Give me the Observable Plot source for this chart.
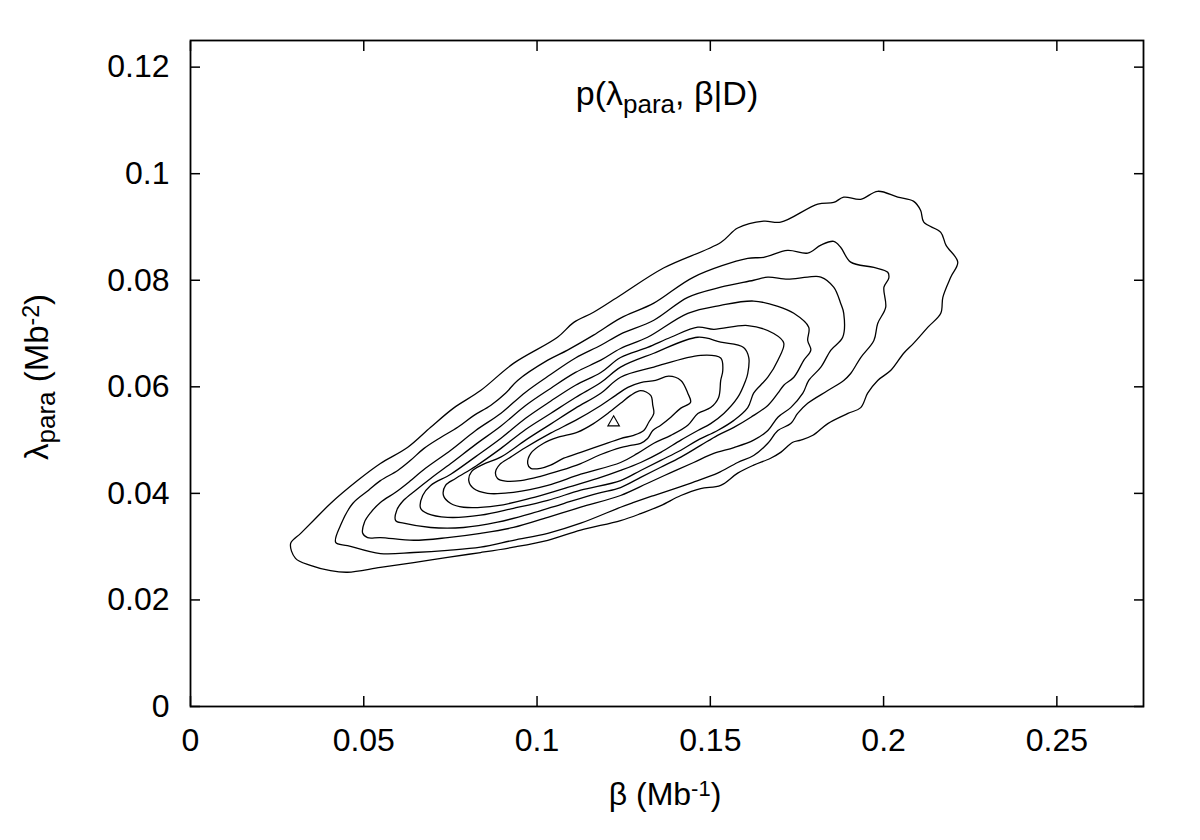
<!DOCTYPE html>
<html>
<head>
<meta charset="utf-8">
<script src="https://cdn.jsdelivr.net/npm/d3@7"></script>
<script src="https://cdn.jsdelivr.net/npm/@observablehq/plot@0.6"></script>
<style>
  html, body { margin: 0; padding: 0; background: #fff; }
  #chart { width: 1200px; height: 840px; }
</style>
</head>
<body>
<div id="chart"></div>
<script>
// ---- tick values and labels ----
const xTicks = [0, 0.05, 0.1, 0.15, 0.2, 0.25];
const xTickLabels = ["0", "0.05", "0.1", "0.15", "0.2", "0.25"];
const yTicks = [0, 0.02, 0.04, 0.06, 0.08, 0.1, 0.12];
const yTickLabels = ["0", "0.02", "0.04", "0.06", "0.08", "0.1", "0.12"];

// ---- contour lines of p(lambda_para, beta | D), [beta, lambda] ----
const contour1 = [
  [0.0289,0.0306],[0.0318,0.0325],[0.0355,0.0349],[0.0404,0.0381],[0.0482,0.0424],[0.0548,0.0456],
  [0.0626,0.0486],[0.0693,0.0524],[0.0759,0.0560],[0.0837,0.0593],[0.0932,0.0644],[0.1059,0.0693],
  [0.1106,0.0721],[0.1163,0.0740],[0.1241,0.0772],[0.1365,0.0823],[0.1530,0.0871],[0.1579,0.0898],
  [0.1654,0.0911],[0.1703,0.0909],[0.1810,0.0943],[0.1856,0.0946],[0.1885,0.0956],[0.1934,0.0952],
  [0.1983,0.0967],[0.2041,0.0956],[0.2087,0.0948],[0.2107,0.0931],[0.2116,0.0909],[0.2165,0.0890],
  [0.2180,0.0866],[0.2214,0.0834],[0.2194,0.0806],[0.2171,0.0768],[0.2165,0.0738],[0.2128,0.0712],
  [0.2087,0.0682],[0.2058,0.0663],[0.2021,0.0631],[0.1983,0.0612],[0.1954,0.0588],[0.1934,0.0561],
  [0.1897,0.0550],[0.1839,0.0531],[0.1796,0.0509],[0.1761,0.0500],[0.1738,0.0496],[0.1703,0.0477],
  [0.1674,0.0466],[0.1625,0.0453],[0.1579,0.0438],[0.1530,0.0415],[0.1472,0.0409],[0.1415,0.0396],
  [0.1357,0.0377],[0.1299,0.0362],[0.1241,0.0349],[0.1126,0.0331],[0.1031,0.0312],[0.0932,0.0299],
  [0.0837,0.0289],[0.0742,0.0280],[0.0644,0.0270],[0.0548,0.0261],[0.0453,0.0252],[0.0404,0.0255],
  [0.0346,0.0265],[0.0303,0.0278]
];
const contour2 = [
  [0.0419,0.0308],[0.0433,0.0340],[0.0468,0.0381],[0.0514,0.0406],[0.0548,0.0424],[0.0598,0.0443],
  [0.0635,0.0462],[0.0673,0.0484],[0.0722,0.0505],[0.0771,0.0524],[0.0817,0.0546],[0.0866,0.0565],
  [0.0909,0.0588],[0.0944,0.0612],[0.1031,0.0650],[0.1088,0.0669],[0.1163,0.0697],[0.1241,0.0729],
  [0.1337,0.0757],[0.1452,0.0806],[0.1608,0.0841],[0.1654,0.0843],[0.1723,0.0856],[0.1781,0.0851],
  [0.1819,0.0866],[0.1856,0.0873],[0.1876,0.0862],[0.1905,0.0834],[0.1972,0.0824],[0.2012,0.0815],
  [0.2015,0.0804],[0.2001,0.0787],[0.2006,0.0749],[0.1983,0.0719],[0.1972,0.0687],[0.1934,0.0655],
  [0.1905,0.0625],[0.1885,0.0612],[0.1839,0.0593],[0.1781,0.0569],[0.1752,0.0550],[0.1732,0.0531],
  [0.1695,0.0518],[0.1666,0.0494],[0.1625,0.0471],[0.1579,0.0458],[0.1521,0.0438],[0.1464,0.0424],
  [0.1406,0.0411],[0.1337,0.0396],[0.1279,0.0383],[0.1241,0.0374],[0.1126,0.0344],[0.1031,0.0325],
  [0.0932,0.0312],[0.0837,0.0299],[0.0742,0.0293],[0.0644,0.0289],[0.0548,0.0287],[0.0453,0.0302]
];
const contour3 = [
  [0.0497,0.0325],[0.0502,0.0346],[0.0520,0.0364],[0.0548,0.0383],[0.0592,0.0402],[0.0626,0.0419],
  [0.0678,0.0447],[0.0751,0.0481],[0.0823,0.0518],[0.0895,0.0550],[0.0967,0.0590],[0.1039,0.0623],
  [0.1111,0.0654],[0.1184,0.0678],[0.1241,0.0699],
  [0.1337,0.0725],[0.1435,0.0768],[0.1530,0.0787],[0.1625,0.0800],[0.1666,0.0806],[0.1723,0.0802],
  [0.1781,0.0806],[0.1819,0.0806],[0.1856,0.0787],[0.1876,0.0757],[0.1885,0.0738],[0.1882,0.0693],
  [0.1848,0.0669],[0.1819,0.0637],[0.1784,0.0612],[0.1767,0.0588],[0.1732,0.0561],[0.1695,0.0543],
  [0.1666,0.0518],[0.1625,0.0500],[0.1568,0.0486],[0.1510,0.0475],[0.1452,0.0458],[0.1386,0.0439],
  [0.1319,0.0419],[0.1241,0.0396],[0.1126,0.0374],[0.1031,0.0355],[0.0932,0.0336],[0.0837,0.0325],
  [0.0742,0.0317],[0.0644,0.0312],[0.0548,0.0317],[0.0511,0.0317]
];
const contour4 = [
  [0.0592,0.0349],[0.0595,0.0368],[0.0615,0.0387],[0.0650,0.0406],[0.0693,0.0428],[0.0751,0.0456],
  [0.0823,0.0492],[0.0895,0.0526],[0.0967,0.0565],[0.1039,0.0597],[0.1111,0.0627],[0.1184,0.0650],
  [0.1241,0.0672],[0.1319,0.0693],[0.1435,0.0738],
  [0.1530,0.0753],[0.1625,0.0761],[0.1695,0.0751],[0.1741,0.0738],[0.1784,0.0712],[0.1781,0.0687],
  [0.1790,0.0669],[0.1770,0.0650],[0.1741,0.0618],[0.1712,0.0603],[0.1695,0.0588],[0.1666,0.0565],
  [0.1617,0.0543],[0.1568,0.0524],[0.1521,0.0509],[0.1472,0.0490],[0.1415,0.0468],[0.1357,0.0449],
  [0.1299,0.0430],[0.1241,0.0411],[0.1175,0.0400],[0.1077,0.0381],[0.0982,0.0362],[0.0886,0.0346],
  [0.0788,0.0336],[0.0693,0.0336],[0.0615,0.0344]
];
const contour5 = [
  [0.0664,0.0372],[0.0670,0.0396],[0.0693,0.0415],[0.0751,0.0436],[0.0823,0.0469],[0.0895,0.0503],
  [0.0967,0.0541],[0.1039,0.0573],[0.1111,0.0603],[0.1184,0.0627],[0.1241,0.0655],
  [0.1319,0.0674],[0.1386,0.0693],[0.1464,0.0712],[0.1510,0.0708],
  [0.1608,0.0715],[0.1683,0.0700],[0.1712,0.0682],[0.1695,0.0650],[0.1666,0.0618],[0.1645,0.0603],
  [0.1625,0.0588],[0.1608,0.0561],[0.1568,0.0537],[0.1521,0.0518],[0.1464,0.0500],[0.1415,0.0481],
  [0.1357,0.0462],[0.1299,0.0443],[0.1241,0.0424],[0.1126,0.0406],[0.1031,0.0387],[0.0932,0.0372],
  [0.0837,0.0359],[0.0742,0.0355],[0.0684,0.0362]
];
const contour6 = [
  [0.0730,0.0396],[0.0736,0.0415],[0.0765,0.0428],[0.0823,0.0451],[0.0895,0.0484],[0.0967,0.0520],
  [0.1039,0.0550],[0.1111,0.0580],[0.1184,0.0608],[0.1241,0.0637],
  [0.1337,0.0663],[0.1464,0.0693],[0.1530,0.0684],[0.1596,0.0674],[0.1611,0.0655],
  [0.1608,0.0625],[0.1602,0.0612],[0.1579,0.0580],[0.1539,0.0550],[0.1501,0.0531],[0.1464,0.0518],
  [0.1415,0.0500],[0.1357,0.0477],[0.1299,0.0458],[0.1241,0.0443],[0.1175,0.0428],[0.1077,0.0409],
  [0.0982,0.0391],[0.0886,0.0377],[0.0788,0.0374],[0.0751,0.0381]
];
const contour7 = [
  [0.0803,0.0424],[0.0811,0.0441],[0.0843,0.0454],[0.0895,0.0468],[0.0967,0.0500],[0.1039,0.0530],
  [0.1111,0.0560],[0.1184,0.0588],[0.1241,0.0618],[0.1337,0.0637],
  [0.1472,0.0659],[0.1530,0.0654],[0.1536,0.0631],[0.1530,0.0612],[0.1524,0.0580],[0.1501,0.0561],
  [0.1464,0.0550],[0.1435,0.0528],[0.1386,0.0509],[0.1337,0.0494],[0.1290,0.0475],[0.1241,0.0458],
  [0.1126,0.0436],[0.1031,0.0415],[0.0932,0.0402],[0.0857,0.0400],[0.0817,0.0409]
];
const contour8 = [
  [0.0880,0.0439],[0.0892,0.0454],[0.0924,0.0468],[0.0967,0.0486],[0.1039,0.0513],[0.1111,0.0537],
  [0.1184,0.0565],[0.1227,0.0584],[0.1262,0.0599],[0.1299,0.0608],[0.1342,0.0612],
  [0.1380,0.0620],[0.1415,0.0612],[0.1435,0.0588],[0.1443,0.0571],[0.1415,0.0560],[0.1386,0.0543],
  [0.1357,0.0528],[0.1334,0.0518],[0.1319,0.0503],[0.1299,0.0494],[0.1270,0.0490],[0.1241,0.0486],
  [0.1184,0.0473],[0.1126,0.0456],[0.1068,0.0443],[0.1010,0.0432],[0.0953,0.0424],[0.0909,0.0423],
  [0.0886,0.0428]
];
const contour9 = [
  [0.0973,0.0456],[0.0982,0.0475],[0.1019,0.0494],[0.1059,0.0505],[0.1117,0.0515],[0.1163,0.0531],
  [0.1204,0.0550],[0.1241,0.0569],[0.1270,0.0584],[0.1299,0.0593],[0.1328,0.0584],[0.1334,0.0565],
  [0.1337,0.0550],[0.1322,0.0533],[0.1308,0.0518],[0.1279,0.0509],[0.1241,0.0503],[0.1184,0.0490],
  [0.1126,0.0477],[0.1077,0.0466],[0.1039,0.0453],[0.1010,0.0447],[0.0982,0.0447]
];
// maximum of the posterior
const peakBeta = [0.1221];
const peakLambda = [0.0533];

// ---- build a long table for Plot ----
const contours = [contour1, contour2, contour3, contour4, contour5, contour6, contour7, contour8, contour9];
const rows = contours.flatMap((c, i) => c.map(([beta, lambda]) => ({level: i + 1, beta, lambda})));

const FONT = "'Liberation Sans', Arial, Helvetica, sans-serif";
const FS = 32;

const plot = Plot.plot({
  width: 1200,
  height: 840,
  marginLeft: 190,
  marginRight: 57,
  marginTop: 40,
  marginBottom: 134,
  style: {fontFamily: FONT, fontSize: FS + "px", color: "black", background: "white", overflow: "visible"},
  x: {domain: [0, 0.275]},
  y: {domain: [0, 0.125]},
  marks: [
    Plot.line(rows, {x: "beta", y: "lambda", z: "level", curve: "catmull-rom-closed", stroke: "black", strokeWidth: 1.3}),
    Plot.dot(peakBeta, {x: peakBeta, y: peakLambda, symbol: "triangle", r: 4.3, stroke: "black", strokeWidth: 1.1, fill: "none"}),
    Plot.axisX({anchor: "bottom", ticks: xTicks, tickFormat: d => xTickLabels[xTicks.indexOf(d)], tickSize: -10, tickPadding: 32, strokeWidth: 1.5, fontSize: FS, label: null}),
    Plot.axisX({anchor: "top", ticks: xTicks, tickFormat: () => "", tickSize: -10, strokeWidth: 1.5, label: null}),
    Plot.axisY({anchor: "left", ticks: yTicks, tickFormat: d => yTickLabels[yTicks.indexOf(d)], tickSize: -10, tickPadding: 31, strokeWidth: 1.5, fontSize: FS, label: null}),
    Plot.axisY({anchor: "right", ticks: yTicks, tickFormat: () => "", tickSize: -10, strokeWidth: 1.5, label: null}),
    Plot.frame({stroke: "black", strokeWidth: 1.8})
  ]
});

document.getElementById("chart").appendChild(plot);

// ---- labels with sub/superscripts ----
const svg = d3.select(plot);
const g = svg.append("g").attr("font-family", FONT).attr("fill", "black");

// title inside the frame
const t = g.append("text").attr("x", 667).attr("y", 105).attr("text-anchor", "middle").attr("font-size", 34);
t.append("tspan").text("p(λ");
t.append("tspan").attr("font-size", 26).attr("dy", 8).text("para");
t.append("tspan").attr("dy", -8).text(", β|D)");

// x label
const xl = g.append("text").attr("x", 665).attr("y", 805).attr("text-anchor", "middle").attr("font-size", FS);
xl.append("tspan").text("β (Mb");
xl.append("tspan").attr("font-size", 22).attr("dy", -9).text("-1");
xl.append("tspan").attr("dy", 9).text(")");

// y label
const yl = g.append("text").attr("transform", "translate(48,377) rotate(-90)").attr("text-anchor", "middle").attr("font-size", 33);
yl.append("tspan").text("λ");
yl.append("tspan").attr("font-size", 26).attr("dy", 7).text("para");
yl.append("tspan").attr("dy", -7).text(" (Mb");
yl.append("tspan").attr("font-size", 23).attr("dy", -9).text("-2");
yl.append("tspan").attr("dy", 9).text(")");
</script>
</body>
</html>
